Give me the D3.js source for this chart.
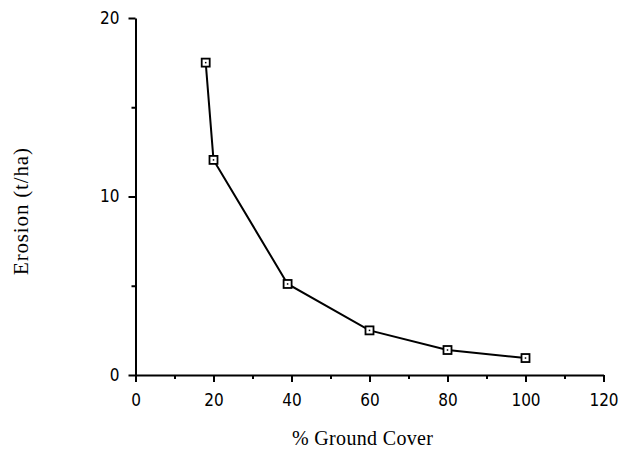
<!DOCTYPE html>
<html><head><meta charset="utf-8">
<script src="https://cdn.jsdelivr.net/npm/d3@7"></script>
<style>body{margin:0;background:#fff}</style>
</head><body>
<svg id="c" width="628" height="450"></svg>
<script>
const groundCover = [18, 20, 39, 60, 80, 100];
const erosion = [17.5, 12.05, 5.1, 2.5, 1.4, 0.95];
const xTicks = [0, 20, 40, 60, 80, 100, 120];
const yTicks = [0, 10, 20];

const svg = d3.select('#c');
const x = d3.scaleLinear().domain([0, 120]).range([135.5, 603.5]);
const y = d3.scaleLinear().domain([0, 20]).range([375, 18]);

const tickFont = '"DejaVu Sans Condensed", "DejaVu Sans", Verdana, sans-serif';

// X axis
const gx = svg.append('g').attr('transform', 'translate(0,375)');
gx.call(d3.axisBottom(x).tickValues(xTicks).tickSize(7).tickSizeOuter(0).tickPadding(12));
gx.selectAll('.tick text').attr('font-size', 17).attr('font-family', tickFont)
  .attr('font-stretch', 'condensed').attr('fill', '#000');
const gxm = svg.append('g').attr('transform', 'translate(0,375)');
gxm.call(d3.axisBottom(x).tickValues(d3.range(10, 120, 20)).tickSize(4).tickFormat(''));
gxm.select('.domain').remove();

// Y axis
const gy = svg.append('g').attr('transform', 'translate(135.5,0)');
gy.call(d3.axisLeft(y).tickValues(yTicks).tickSize(7).tickSizeOuter(0).tickPadding(9));
gy.selectAll('.tick text').attr('font-size', 17).attr('font-family', tickFont)
  .attr('font-stretch', 'condensed').attr('fill', '#000');
const gym = svg.append('g').attr('transform', 'translate(135.5,0)');
gym.call(d3.axisLeft(y).tickValues([5, 15]).tickSize(4).tickFormat(''));
gym.select('.domain').remove();

svg.selectAll('.domain, .tick line').attr('stroke', '#000').attr('stroke-width', 2);

// Line
const pts = groundCover.map((g, i) => [g, erosion[i]]);
svg.append('path').datum(pts)
  .attr('fill', 'none').attr('stroke', '#000').attr('stroke-width', 2)
  .attr('d', d3.line().x(d => x(d[0])).y(d => y(d[1])));

// Markers
const m = svg.append('g').selectAll('g').data(pts).join('g')
  .attr('transform', d => `translate(${x(d[0])},${y(d[1])})`);
m.append('rect').attr('x', -4).attr('y', -4).attr('width', 8).attr('height', 8)
  .attr('fill', '#fff').attr('stroke', '#000').attr('stroke-width', 1.8);
m.append('rect').attr('x', -0.75).attr('y', -0.75).attr('width', 1.5).attr('height', 1.5).attr('fill', '#000');

// Titles
const serif = '"Liberation Serif", "Times New Roman", serif';
svg.append('text').attr('x', 362.5).attr('y', 445).attr('text-anchor', 'middle')
  .attr('font-family', serif).attr('font-size', 20)
  .attr('textLength', 141).attr('lengthAdjust', 'spacing')
  .text('% Ground Cover');
svg.append('text').attr('transform', 'translate(28,211.5) rotate(-90)').attr('text-anchor', 'middle')
  .attr('font-family', serif).attr('font-size', 21)
  .attr('textLength', 127).attr('lengthAdjust', 'spacing')
  .text('Erosion (t/ha)');
</script>
</body></html>
